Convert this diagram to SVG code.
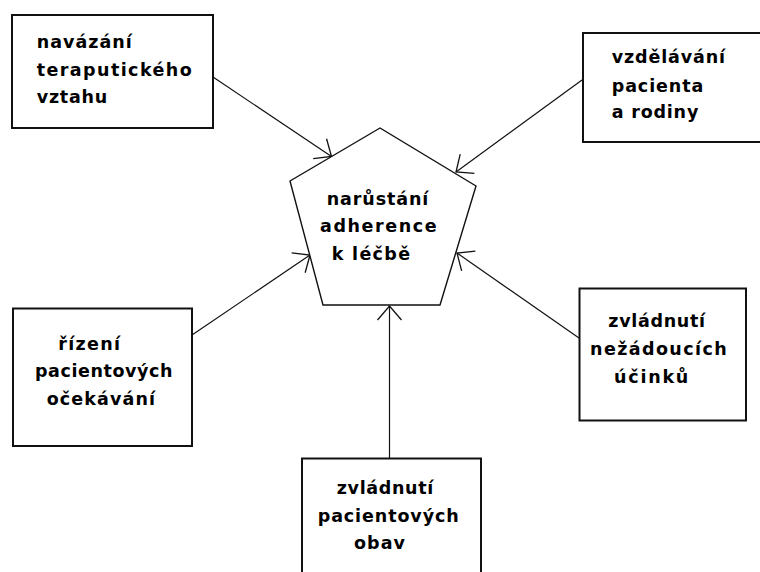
<svg xmlns="http://www.w3.org/2000/svg" width="760" height="572" viewBox="0 0 760 572">
<style>
.box{fill:#fff;stroke:#111;stroke-width:2}
.pent{fill:#fff;stroke:#111;stroke-width:1.4}
.con{fill:none;stroke:#111;stroke-width:1.2}
text{font-family:"DejaVu Sans","Liberation Sans",Arial,sans-serif;font-weight:bold;font-size:17.5px;fill:#000}
</style>
<defs>
<marker id="arr" viewBox="-16 -14 18 28" refX="0" refY="0" markerWidth="18" markerHeight="28" markerUnits="userSpaceOnUse" orient="auto" overflow="visible">
<path d="M-14,-12 L0,0 L-14,12" fill="none" stroke="#111" stroke-width="1.3"/>
</marker>
</defs>
<rect width="760" height="572" fill="#fff"/>
<g id="connectors">
<line class="con" x1="213" y1="77" x2="331.5" y2="156.5" marker-end="url(#arr)"/>
<line class="con" x1="582" y1="80" x2="456" y2="172" marker-end="url(#arr)"/>
<line class="con" x1="192" y1="335" x2="310" y2="255" marker-end="url(#arr)"/>
<line class="con" x1="579" y1="338" x2="457" y2="253" marker-end="url(#arr)"/>
<line class="con" x1="389.5" y1="458" x2="389.5" y2="306" marker-end="url(#arr)"/>
</g>
<g id="center">
<polygon class="pent" points="380,128 290,181 323,305 440,305 476,186"/>
<text x="326.7" y="205" textLength="101.6" lengthAdjust="spacing">narůstání</text>
<text x="320" y="232.3" textLength="116.7" lengthAdjust="spacing">adherence</text>
<text x="331.7" y="260" textLength="78.3" lengthAdjust="spacing">k léčbě</text>
</g>
<g id="box1">
<rect class="box" x="12" y="15" width="201" height="113"/>
<text x="36.7" y="47.5" textLength="95" lengthAdjust="spacing">navázání</text>
<text x="36.7" y="75.5" textLength="155" lengthAdjust="spacing">teraputického</text>
<text x="36.7" y="102.5" textLength="70.6" lengthAdjust="spacing">vztahu</text>
</g>
<g id="box2">
<rect class="box" x="583" y="33" width="190" height="109"/>
<text x="611.7" y="63.3" textLength="113.3" lengthAdjust="spacing">vzdělávání</text>
<text x="611.7" y="91.7" textLength="91.6" lengthAdjust="spacing">pacienta</text>
<text x="611.7" y="118.3" textLength="86.6" lengthAdjust="spacing">a rodiny</text>
</g>
<g id="box3">
<rect class="box" x="13" y="308.5" width="179" height="137.5"/>
<text x="58.3" y="350" textLength="61.7" lengthAdjust="spacing">řízení</text>
<text x="35" y="377.3" textLength="137.5" lengthAdjust="spacing">pacientových</text>
<text x="46.7" y="405" textLength="108.3" lengthAdjust="spacing">očekávání</text>
</g>
<g id="box4">
<rect class="box" x="579.5" y="288.5" width="166.5" height="132"/>
<text x="608.3" y="327.3" textLength="96.7" lengthAdjust="spacing">zvládnutí</text>
<text x="590" y="355" textLength="136.7" lengthAdjust="spacing">nežádoucích</text>
<text x="614" y="383.3" textLength="74.3" lengthAdjust="spacing">účinků</text>
</g>
<g id="box5">
<rect class="box" x="302" y="458.5" width="179" height="130"/>
<text x="336.7" y="494.3" textLength="96.6" lengthAdjust="spacing">zvládnutí</text>
<text x="317.7" y="521.7" textLength="141" lengthAdjust="spacing">pacientových</text>
<text x="354" y="549.3" textLength="51" lengthAdjust="spacing">obav</text>
</g>
</svg>
